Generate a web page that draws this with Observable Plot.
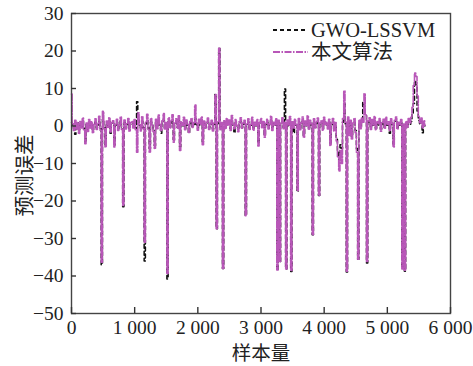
<!DOCTYPE html>
<html>
<head>
<meta charset="utf-8">
<script src="https://cdn.jsdelivr.net/npm/d3@7"></script>
<script src="https://cdn.jsdelivr.net/npm/@observablehq/plot@0.6"></script>
<style>
  body { margin: 0; background: #fff; }
  #wrap { position: relative; width: 473px; height: 366px; }
  #legend { position: absolute; left: 272px; top: 19px; font-family: "Liberation Serif", "Noto Sans CJK SC", serif; font-size: 20.5px; color: #222; line-height: 22px; }
  #legend div { display: flex; align-items: center; height: 22px; }
  #legend svg { margin-right: 2px; }
</style>
</head>
<body>
<div id="wrap"><div id="legend"></div></div>
<script>
// sample spacing of the values below (every 20th sample)
const sampleStep = 20;
const seriesNames = ["GWO-LSSVM", "本文算法"];
const xTicks = [0, 1000, 2000, 3000, 4000, 5000, 6000];
const yTicks = [30, 20, 10, 0, -10, -20, -30, -40, -50];
const xLabel = "样本量";
const yLabel = "预测误差";

// 本文算法 prediction error
const oursError = [
  8.5, 0.6, -1.2, 1.5, -0.8, 0.9, -2.0, 1.2, -0.5, 2.1,
  -1.0, -4.7, 0.8, -1.5, 1.7, -0.6, 1.1, -1.8, 0.4, 1.9,
  -0.9, 0.7, 2.6, -1.1, -36.3, 3.9, -0.7, -5.6, 1.3, -0.4,
  2.2, -1.6, 0.9, 1.4, -5.6, 0.5, 1.8, -1.2, 0.3, 2.4,
  -0.9, -21.2, 1.6, -0.8, 0.6, 2.0, -1.4, 0.9, 1.2, -0.5,
  1.7, -1.0, -7.0, 3.5, 0.4, -1.3, 2.5, -0.6, -31.0, 1.0,
  3.1, -0.9, -7.0, 2.0, 0.3, -1.5, -6.0, 1.8, -0.7, 2.9,
  0.5, -1.2, 1.4, 3.3, -0.8, 0.9, -39.3, 2.2, -0.5, 1.5,
  3.0, -4.3, 0.8, 1.9, -0.6, 2.7, -6.5, 1.1, 0.2, 2.3,
  -1.0, 1.6, 0.4, -1.7, 1.2, 2.0, -0.4, 0.9, 5.6, 0.7,
  -1.1, 1.8, 0.5, 2.4, -5.0, 1.3, -0.6, 1.0, 2.1, -0.9,
  0.6, 1.5, -1.3, 0.8, 8.4, -27.4, 1.2, 20.7, -1.0, 0.9,
  -38.0, 1.4, -0.7, 2.0, 0.3, 1.6, -1.2, 2.8, 0.5, -0.8,
  1.7, 0.2, -1.5, 1.1, 2.2, -0.6, 0.8, 1.5, -23.9, 0.6,
  1.9, -0.9, 0.4, 2.3, -1.1, 1.0, 0.2, 1.7, -5.3, 0.9,
  2.0, -0.5, 1.2, -3.0, 0.7, 1.8, -0.8, 0.5, 2.6, -1.2,
  1.0, 0.3, 1.9, -38.4, 1.5, -36.1, 0.8, 2.2, -0.7, 1.0,
  -38.1, 1.6, 0.2, 2.5, -38.5, 1.1, -0.6, 1.8, 0.4, -17.2,
  2.0, -1.0, 0.9, 2.4, -3.0, 1.3, 0.1, 2.7, -0.9, 1.5,
  0.6, -29.0, 1.9, -0.5, 1.2, 2.1, -18.5, 0.8, 1.4, -1.1,
  2.3, 0.4, 1.0, -0.8, 1.8, -5.2, 0.7, 2.0, -1.3, 0.9,
  -4.0, -8.3, -12.0, -6.5, -10.0, 2.0, 9.3, 1.0, -38.7, 2.4,
  -2.5, 1.5, -3.5, 0.8, 2.0, -1.8, -7.0, -35.5, 1.6, -0.7,
  2.1, 1.0, 8.6, 3.0, -36.1, 1.4, 2.2, -0.9, 1.7, 0.3,
  2.5, -1.0, 1.2, 0.6, 2.0, -1.4, 0.9, 1.8, -0.6, 2.3,
  0.4, 1.1, -1.2, 1.9, 0.7, -5.6, 1.5, 2.4, -0.8, 1.0,
  0.3, 1.7, -38.1, 0.5, -38.5, 1.2, -0.4, 2.0, 0.8, 2.3,
  5.0, 10.8, 14.1, 13.2, 8.0, 2.6, 0.9, 2.1, -0.5, 1.4,
  0.2
];

// GWO-LSSVM prediction error
const gwoError = [
  1.0, 0.3, -0.6, -2.2, 0.4, 0.8, -1.0, 0.5, -0.3, 1.2,
  -0.6, -4.0, 0.5, -1.0, 1.1, -0.4, 0.6, -1.2, 0.2, 1.0,
  -0.5, 0.3, 1.4, -0.7, -37.0, 1.8, -0.4, -5.0, 0.7, -0.2,
  1.2, -1.9, 0.5, 0.8, -5.0, 0.3, 1.0, -0.8, 0.2, 1.3,
  -0.5, -21.5, 0.9, -0.5, 0.3, 1.1, -0.8, 0.5, 0.7, -0.3,
  0.9, -0.6, 6.5, 1.6, 0.2, -0.8, 1.3, -0.4, -36.0, 0.6,
  1.5, -0.5, -6.0, 1.1, 0.2, -0.9, -5.2, 1.0, -0.4, 1.5,
  0.3, -1.9, 0.8, 1.6, -0.5, 0.5, -40.8, 1.2, -0.3, 0.8,
  1.4, -3.6, 0.5, 1.0, -0.4, 1.4, -5.5, 0.6, 0.1, 1.2,
  -0.6, 0.9, 0.2, -1.9, 0.7, 1.1, -0.3, 0.5, 2.0, 0.4,
  -0.6, 1.0, 0.3, 1.3, -4.2, 0.7, -0.4, 0.6, 1.1, -0.5,
  0.3, 0.8, -0.8, 0.5, 8.4, -27.4, 0.7, 20.7, -0.6, 0.5,
  -38.0, 0.8, -0.4, 1.1, 0.2, 0.9, -0.7, 1.5, 0.3, -1.8,
  0.9, 0.1, -0.9, 0.6, 1.2, -0.4, 0.5, 0.8, -23.9, 0.3,
  1.0, -0.5, 0.2, 1.2, -0.7, 0.6, 0.1, 0.9, -4.5, 0.5,
  1.1, -0.3, 0.7, -2.5, 0.4, 1.0, -0.5, 0.3, 1.4, -0.7,
  0.6, 0.2, 1.0, -38.4, 0.8, -36.1, 0.5, 1.2, -0.4, 9.9,
  -38.1, 0.9, 0.1, 1.3, -38.8, 0.6, -1.8, 1.0, 0.2, -17.5,
  1.1, -0.6, 0.5, 1.3, -2.5, 0.7, 0.1, 1.4, -0.5, 0.8,
  0.3, -29.0, 1.0, -0.3, 0.7, 1.1, -18.5, 0.5, 0.8, -0.7,
  1.2, 0.2, 0.6, -0.5, 1.0, -4.5, 0.4, 1.1, -0.8, 0.5,
  -3.0, -7.0, -9.0, -5.0, -6.0, 1.0, 6.0, 0.6, -38.9, 1.3,
  -1.8, 0.8, -2.8, 0.5, 1.0, -1.2, -6.0, -35.5, 0.9, -0.4,
  1.1, 6.3, 4.5, 2.8, -36.5, 1.0, 1.2, -0.5, 0.9, 0.2,
  1.3, -0.6, 0.7, 0.3, 1.1, -0.8, 0.5, 1.0, -0.4, 1.2,
  0.2, 0.6, -1.9, 1.0, 0.4, -4.8, 0.8, 1.3, -0.5, 0.6,
  0.2, 0.9, -37.8, 0.3, -38.7, 0.7, -0.3, 1.1, 0.5, 1.2,
  3.0, 6.0, 12.0, 11.0, 4.0, 1.5, 0.5, 1.2, -1.8, 0.8,
  0.1
];

const seriesColors = ["#111111", "#b857b8"];
const seriesDash = ["4,3", "7,1.5,1.5,1.5"];

const rows = (vals) => vals.map((v, i) => ({x: i * sampleStep, y: v}));
const gwoRows = rows(gwoError);
const oursRows = rows(oursError);

const fontFam = '"Liberation Serif", "Noto Sans CJK SC", serif';
const cjkFam = '"Noto Sans CJK SC", sans-serif';
const fmtX = (d) => d === 0 ? "0" : d3.format(",")(d).replace(",", " ");

const chart = Plot.plot({
  width: 473,
  height: 366,
  marginLeft: 71,
  marginRight: 23,
  marginTop: 13,
  marginBottom: 53,
  style: {fontFamily: fontFam, fontSize: "19.5px", color: "#222", background: "#fff", overflow: "visible"},
  x: {domain: [0, 6000]},
  y: {domain: [-50, 30]},
  marks: [
    Plot.lineY(gwoRows, {x: "x", y: "y", curve: "step", stroke: seriesColors[0], strokeWidth: 1.5, strokeDasharray: seriesDash[0]}),
    Plot.lineY(oursRows, {x: "x", y: "y", curve: "step", stroke: seriesColors[1], strokeWidth: 1.6, strokeDasharray: seriesDash[1]}),
    Plot.frame({stroke: "#444", strokeWidth: 1.4}),
    Plot.axisX({ticks: xTicks, tickFormat: fmtX, tickSize: -6, tickPadding: 13, stroke: "#333", strokeWidth: 1.4, label: null, fontSize: 19.5}),
    Plot.axisY({ticks: yTicks, tickSize: -5, tickPadding: 13, stroke: "#333", strokeWidth: 1.4, label: null, fontSize: 19.5}),
    Plot.text([xLabel], {text: (d) => d, frameAnchor: "bottom", dy: 40.5, lineAnchor: "middle", fontSize: 19.5, fontFamily: cjkFam, fill: "#222"}),
    Plot.text([yLabel], {text: (d) => d, frameAnchor: "left", rotate: -90, dx: -46, dy: 12, lineAnchor: "middle", textAnchor: "middle", fontSize: 20.5, fontFamily: cjkFam, fill: "#222"})
  ]
});
document.getElementById("wrap").prepend(chart);

const legend = document.getElementById("legend");
seriesNames.forEach((name, i) => {
  const row = document.createElement("div");
  row.innerHTML = `<svg width="37" height="10"><line x1="1" y1="5" x2="36" y2="5" stroke="${seriesColors[i]}" stroke-width="1.8" stroke-dasharray="${seriesDash[i]}"/></svg><span>${name}</span>`;
  legend.appendChild(row);
});
</script>
</body>
</html>
